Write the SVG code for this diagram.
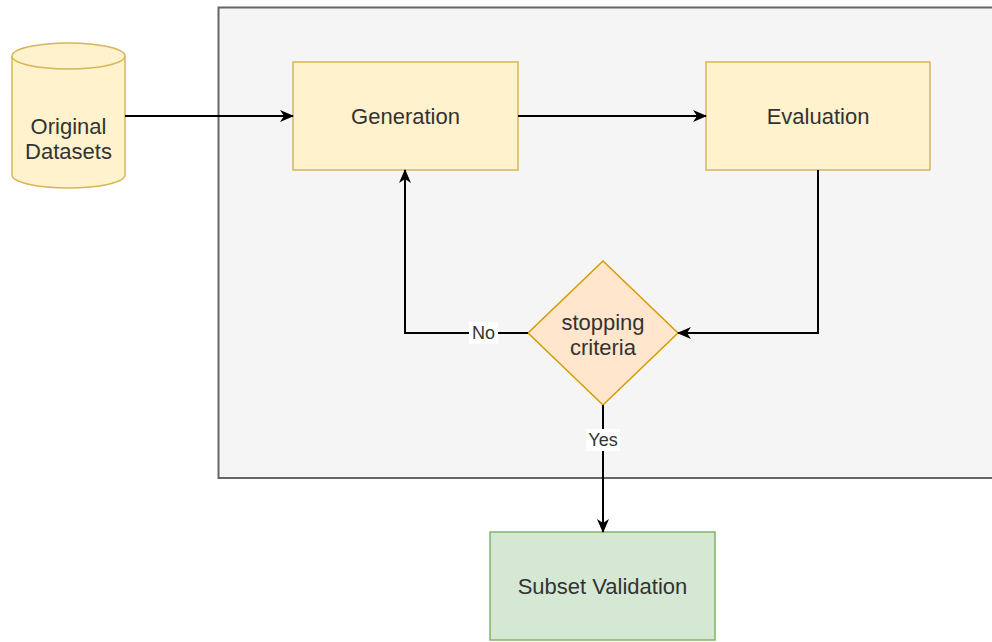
<svg xmlns="http://www.w3.org/2000/svg" width="992" height="642" viewBox="0 0 992 642">
<defs>
<style>
text{font-family:"Liberation Sans",Arial,sans-serif;fill:#333333;text-anchor:middle;dominant-baseline:central}
.t{font-size:22px}
.lbl{font-size:18px}
.y{fill:#fff2cc;stroke:#d6b656;stroke-width:1.5}
.conn path{fill:none;stroke:#000;stroke-width:2}
</style>
<marker id="ah" viewBox="0 0 14 12" refX="13" refY="6" markerWidth="14" markerHeight="12" markerUnits="userSpaceOnUse" orient="auto">
<path d="M0,0 L14,6 L0,12 L4,6 Z" fill="#000"/>
</marker>
</defs>
<rect width="992" height="642" fill="#ffffff"/>
<g id="container">
<rect x="218.5" y="7.5" width="790" height="470.5" fill="#f5f5f5" stroke="#666666" stroke-width="2"/>
</g>
<g id="original-datasets">
<path d="M12,56 A56.5,13 0 0 1 125,56 L125,175 A56.5,13 0 0 1 12,175 Z" class="y"/>
<path d="M12,56 A56.5,13 0 0 0 125,56" fill="none" stroke="#d6b656" stroke-width="1.5"/>
<text class="t" x="68.5" y="126">Original</text>
<text class="t" x="68.5" y="151">Datasets</text>
</g>
<g id="generation">
<rect x="293" y="62" width="225" height="108" class="y"/>
<text class="t" x="405.5" y="116">Generation</text>
</g>
<g id="evaluation">
<rect x="706" y="62" width="224" height="108" class="y"/>
<text class="t" x="818" y="116">Evaluation</text>
</g>
<g id="stopping-criteria">
<polygon points="603,261 678,333 603,405 528,333" fill="#ffe6cc" stroke="#d79b00" stroke-width="1.5"/>
<text class="t" x="603" y="322">stopping</text>
<text class="t" x="603" y="347">criteria</text>
</g>
<g id="subset-validation">
<rect x="490" y="532" width="225" height="108" fill="#d5e8d4" stroke="#82b366" stroke-width="1.5"/>
<text class="t" x="602.5" y="586">Subset Validation</text>
</g>
<g class="conn" id="connectors">
<path d="M125,116 L293,116" marker-end="url(#ah)"/>
<path d="M518,116 L706,116" marker-end="url(#ah)"/>
<path d="M818,170 L818,333 L678,333" marker-end="url(#ah)"/>
<path d="M528,333 L405,333 L405,170" marker-end="url(#ah)"/>
<path d="M603,405 L603,532" marker-end="url(#ah)"/>
<rect x="469" y="322" width="29" height="22" fill="#ffffff"/>
<text class="lbl" x="483.5" y="333">No</text>
<rect x="586" y="429" width="34" height="22" fill="#ffffff"/>
<text class="lbl" x="603" y="440">Yes</text>
</g>
</svg>
